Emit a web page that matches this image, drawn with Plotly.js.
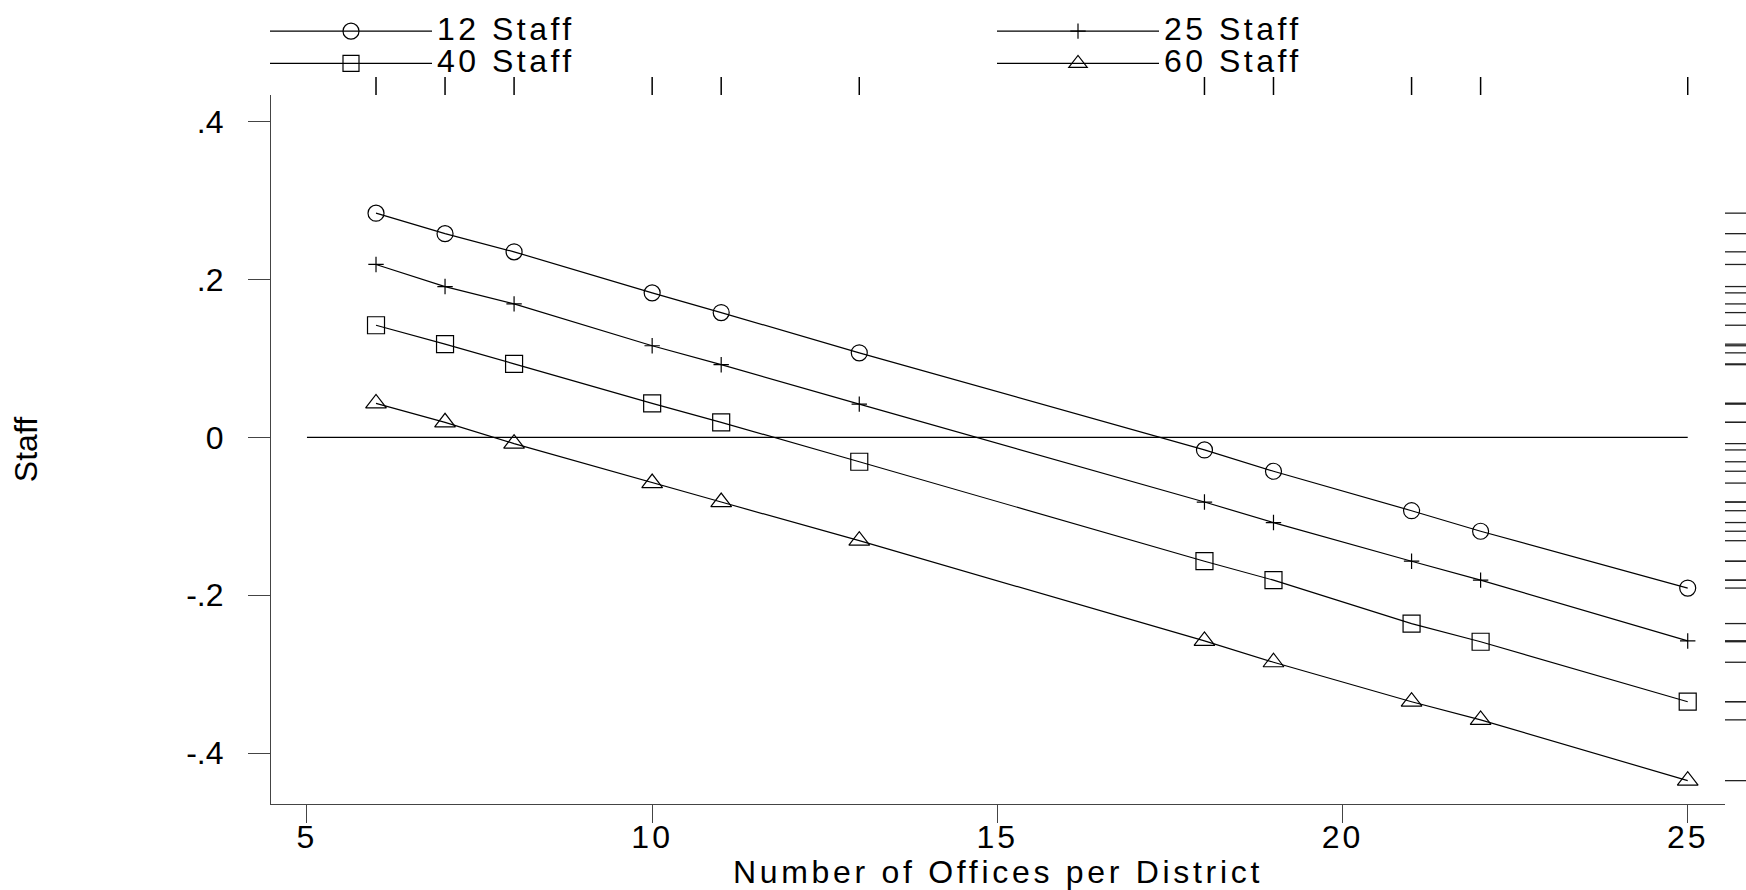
<!DOCTYPE html>
<html><head><meta charset="utf-8">
<script src="https://cdn.plot.ly/plotly-3.0.1.min.js"></script>
<style>
html,body{margin:0;padding:0;background:#fff;}
#chart{width:1746px;height:890px;}
svg text.legendtext{font-size:32px !important;letter-spacing:3.5px !important;}
.g-xtitle text{letter-spacing:3.7px;}
.xtick text{letter-spacing:3px;}
</style></head><body><div id="chart"></div>
<script>
const offices = [6, 7, 8, 10, 11, 13, 18, 19, 21, 22, 25];
const seriesNames = ['12 Staff', '25 Staff', '40 Staff', '60 Staff'];
const staff12 = [0.284, 0.258, 0.235, 0.183, 0.158, 0.107, -0.016, -0.043, -0.093, -0.119, -0.191];
const staff25 = [0.219, 0.191, 0.169, 0.116, 0.092, 0.042, -0.082, -0.108, -0.157, -0.181, -0.258];
const staff40 = [0.142, 0.118, 0.093, 0.043, 0.019, -0.031, -0.157, -0.181, -0.236, -0.259, -0.335];
const staff60 = [0.043, 0.019, -0.008, -0.058, -0.082, -0.131, -0.258, -0.285, -0.335, -0.358, -0.435];
const yTickVals = [-0.4, -0.2, 0, 0.2, 0.4];
const yTickText = ['-.4', '-.2', '0', '.2', '.4'];
const xTickVals = [5, 10, 15, 20, 25];
const zeroLineSpan = [5, 25];

const FONT = 'Liberation Sans, Arial, Helvetica, sans-serif';
const allSeries = [staff12, staff25, staff40, staff60];
const symbols = ['circle-open', 'cross-thin-open', 'square-open', 'triangle-up-open'];
const sizes = [16, 11, 17, 18];

const traces = allSeries.map((ys, i) => ({
  type: 'scatter', mode: 'lines+markers', name: seriesNames[i],
  x: offices, y: ys,
  line: {color: '#000', width: 1.2},
  marker: {symbol: symbols[i], size: sizes[i], color: '#000', line: {color: '#000', width: 1.2}},
  hoverinfo: 'x+y+name'
}));

const shapes = [];
shapes.push({type: 'line', xref: 'x', yref: 'y', x0: zeroLineSpan[0], x1: zeroLineSpan[1], y0: 0, y1: 0,
  line: {color: '#000', width: 1.2}, layer: 'below'});
allSeries.forEach(ys => ys.forEach(v => shapes.push({
  type: 'line', xref: 'paper', xsizemode: 'pixel', xanchor: 1, x0: 0, x1: 21,
  yref: 'y', y0: v, y1: v, line: {color: '#222', width: 1.3}
})));
offices.forEach(x => shapes.push({
  type: 'line', xref: 'x', x0: x, x1: x, yref: 'paper', ysizemode: 'pixel', yanchor: 1, y0: 0, y1: 18,
  line: {color: '#000', width: 1.5}
}));

const layout = {
  width: 1746, height: 890,
  margin: {l: 271, r: 21, t: 95, b: 86, pad: 0, autoexpand: false},
  paper_bgcolor: '#fff', plot_bgcolor: '#fff',
  font: {family: FONT, size: 32, color: '#000'},
  showlegend: true,
  legend: {
    x: 265 / 1746, xref: 'container', xanchor: 'left', y: 1 - 10 / 890, yref: 'container', yanchor: 'top',
    orientation: 'h', itemwidth: 162, entrywidth: 550, entrywidthmode: 'pixels',
    font: {family: FONT, size: 22.5, color: '#000'}, bgcolor: 'rgba(0,0,0,0)', borderwidth: 0,
    itemclick: false, itemdoubleclick: false, tracegroupgap: 0
  },
  xaxis: {
    range: [4.479, 25.54], tickvals: xTickVals, ticks: 'outside', ticklen: 18, tickwidth: 1.2, tickcolor: '#444',
    showline: true, linecolor: '#444', linewidth: 1.2, showgrid: false, zeroline: false,
    ticklabelstandoff: -14,
    tickfont: {family: FONT, size: 32, color: '#000'},
    title: {text: 'Number of Offices per District', font: {family: FONT, size: 32, color: '#000'}, standoff: 0}
  },
  yaxis: {
    range: [-0.4646, 0.4337], tickvals: yTickVals, ticktext: yTickText, ticks: 'outside', ticklen: 22, tickwidth: 1.2,
    tickcolor: '#444', showline: true, linecolor: '#444', linewidth: 1.2, showgrid: false, zeroline: false,
    ticklabelstandoff: 18,
    tickfont: {family: FONT, size: 32, color: '#000'},
    title: {text: 'Staff', font: {family: FONT, size: 32, color: '#000'}, standoff: 138}
  },
  shapes: shapes
};

Plotly.newPlot('chart', traces, layout, {displayModeBar: false});
</script></body></html>
